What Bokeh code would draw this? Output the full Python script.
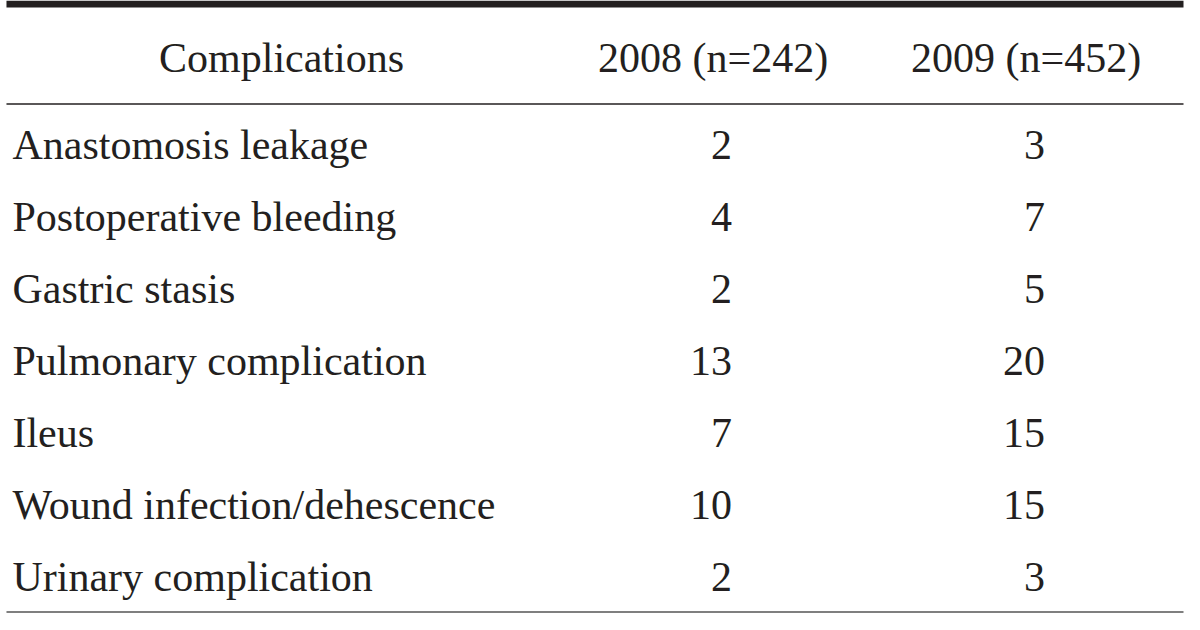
from bokeh.plotting import figure
from bokeh.models import Range1d, ColumnDataSource
from bokeh.core.properties import value
from bokeh.embed import file_html
from bokeh.resources import INLINE

complications = [
    "Anastomosis leakage",
    "Postoperative bleeding",
    "Gastric stasis",
    "Pulmonary complication",
    "Ileus",
    "Wound infection/dehescence",
    "Urinary complication",
]
y2008 = [2, 4, 2, 13, 7, 10, 2]
y2009 = [3, 7, 5, 20, 15, 15, 3]
headers = ["Complications", "2008 (n=242)", "2009 (n=452)"]

FONT = value("Liberation Serif")
INK = "#231f20"
SIZE = "42px"

W, H = 1184, 614
p = figure(width=W, height=H, output_backend="svg", toolbar_location=None,
           x_range=Range1d(3, 1191), y_range=Range1d(624, 4),
           min_border=0)
p.axis.visible = False
p.grid.visible = False
p.outline_line_color = None
p.background_fill_color = "white"
p.border_fill_color = "white"

# rules
p.segment(x0=[9], y0=[7.5], x1=[1190], y1=[7.5], line_width=7, line_color=INK)
p.segment(x0=[9], y0=[108.5], x1=[1190], y1=[108.5], line_width=1.5, line_color=INK)
p.segment(x0=[9], y0=[621.5], x1=[1190], y1=[621.5], line_width=1.5, line_color="#555555")

# header
p.text(x=[285, 718, 1032], y=[62, 62, 62], text=headers, text_align="center",
       text_baseline="middle", text_font=FONT, text_font_size=SIZE, text_color=INK)

row_y = [150 + i * 72.7 for i in range(len(complications))]
src = ColumnDataSource(dict(y=row_y, name=complications,
                            a=[str(v) for v in y2008], b=[str(v) for v in y2009]))
p.text(x=15, y="y", text="name", source=src, text_align="left", text_baseline="middle",
       text_font=FONT, text_font_size=SIZE, text_color=INK)
p.text(x=737, y="y", text="a", source=src, text_align="right", text_baseline="middle",
       text_font=FONT, text_font_size=SIZE, text_color=INK)
p.text(x=1051, y="y", text="b", source=src, text_align="right", text_baseline="middle",
       text_font=FONT, text_font_size=SIZE, text_color=INK)

open("out.html", "w").write(file_html(p, INLINE))
